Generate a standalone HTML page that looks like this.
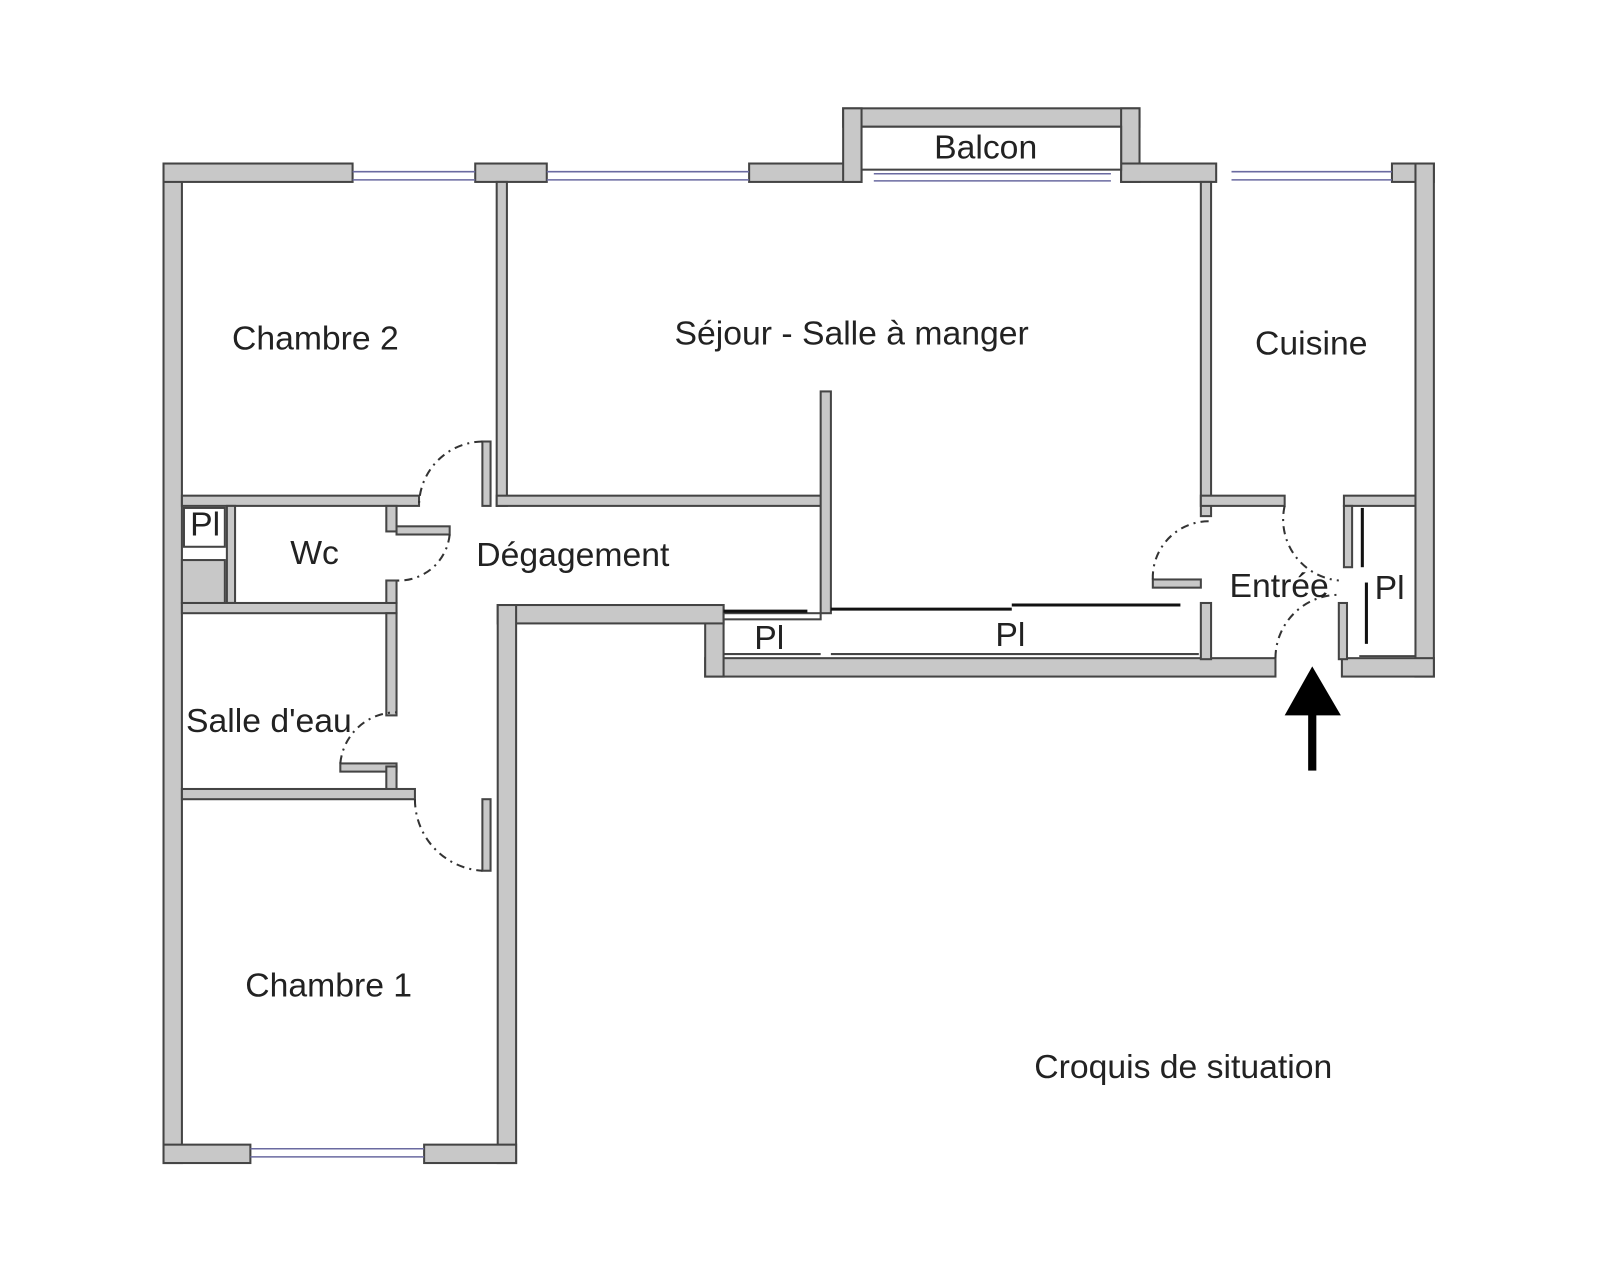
<!DOCTYPE html>
<html><head><meta charset="utf-8"><style>
body{margin:0;background:#fff}
svg text{font-family:"Liberation Sans",sans-serif;fill:#222;font-size:33px}
</style></head><body>
<svg width="1600" height="1277" viewBox="0 0 1600 1277" xmlns="http://www.w3.org/2000/svg">
<g transform="scale(1.022)">
<g fill="#c8c8c8" stroke="#444" stroke-width="2">
<rect x="160" y="160" width="18" height="978"/>
<rect x="160" y="160" width="185" height="18"/>
<rect x="465" y="160" width="70" height="18"/>
<rect x="733" y="160" width="110" height="18"/>
<rect x="825" y="106" width="290" height="18"/>
<rect x="825" y="106" width="18" height="72"/>
<rect x="1097" y="106" width="18" height="72"/>
<rect x="1097" y="160" width="93" height="18"/>
<rect x="1362" y="160" width="41" height="18"/>
<rect x="1385" y="160" width="18" height="502"/>
<rect x="1313" y="644" width="90" height="18"/>
<rect x="690" y="644" width="558" height="18"/>
<rect x="690" y="592" width="18" height="70"/>
<rect x="487" y="592" width="221" height="18"/>
<rect x="487" y="592" width="18" height="546"/>
<rect x="160" y="1120" width="85" height="18"/>
<rect x="415" y="1120" width="90" height="18"/>
<rect x="486" y="178" width="10" height="317"/>
<rect x="486" y="485" width="319" height="10"/>
<rect x="178" y="485" width="232" height="10"/>
<rect x="472" y="432" width="8" height="63"/>
<rect x="803" y="383" width="10" height="217"/>
<rect x="1175" y="178" width="10" height="327"/>
<rect x="1175" y="485" width="82" height="10"/>
<rect x="1315" y="485" width="70" height="10"/>
<rect x="1315" y="495" width="8" height="60"/>
<rect x="1310" y="590" width="8" height="55"/>
<rect x="1175" y="590" width="10" height="55"/>
<rect x="1128" y="567" width="47" height="8"/>
<rect x="222" y="495" width="8" height="95"/>
<rect x="178" y="590" width="210" height="10"/>
<rect x="378" y="495" width="10" height="25"/>
<rect x="388" y="515" width="52" height="8"/>
<rect x="378" y="568" width="10" height="22"/>
<rect x="378" y="600" width="10" height="100"/>
<rect x="333" y="747" width="55" height="8"/>
<rect x="378" y="750" width="10" height="25"/>
<rect x="178" y="772" width="228" height="10"/>
<rect x="472" y="782" width="8" height="70"/>
<rect x="178" y="548" width="42" height="42"/>
<rect x="708" y="600" width="95" height="6" fill="#fff"/>
</g>
<rect x="180" y="497" width="40" height="38" fill="#fff" stroke="#444" stroke-width="2"/>
<rect x="843" y="124" width="254" height="42" fill="#fff" stroke="#444" stroke-width="2"/>
<g stroke="#6a6aa0" stroke-width="1.5">
<line x1="345" y1="168" x2="465" y2="168"/><line x1="345" y1="176" x2="465" y2="176"/>
<line x1="535" y1="168" x2="733" y2="168"/><line x1="535" y1="176" x2="733" y2="176"/>
<line x1="855" y1="170" x2="1087" y2="170"/><line x1="855" y1="177" x2="1087" y2="177"/>
<line x1="1205" y1="168" x2="1362" y2="168"/><line x1="1205" y1="176" x2="1362" y2="176"/>
<line x1="245" y1="1124" x2="415" y2="1124"/><line x1="245" y1="1132" x2="415" y2="1132"/>
</g>
<g stroke="#111" stroke-width="3">
<line x1="813" y1="596" x2="990" y2="596"/><line x1="990" y1="592" x2="1155" y2="592"/>
<line x1="1333" y1="497" x2="1333" y2="555"/><line x1="1337" y1="570" x2="1337" y2="630"/>
<line x1="708" y1="598" x2="790" y2="598"/>
</g>
<g fill="none" stroke="#444" stroke-width="2">
<line x1="813" y1="640" x2="1173" y2="640"/>
<line x1="708" y1="640" x2="803" y2="640"/>
<line x1="1330" y1="642" x2="1385" y2="642"/>
</g>
<g fill="none" stroke="#333" stroke-width="2" stroke-dasharray="8,5,2,5">
<path d="M472 432 A63 63 0 0 0 410 495"/>
<path d="M440 523 A50 50 0 0 1 388 568"/>
<path d="M333 747 A55 55 0 0 1 388 697"/>
<path d="M406 782 A70 70 0 0 0 472 852"/>
<path d="M1128 567 A55 55 0 0 1 1183 510"/>
<path d="M1257 495 A60 60 0 0 0 1310 568"/>
<path d="M1248 644 A62 62 0 0 1 1310 582"/>
</g>
<polygon points="1284,652 1257,700 1312,700" fill="#000"/>
<rect x="1280" y="698" width="8" height="56" fill="#000"/>
<text x="227" y="342">Chambre 2</text>
<text x="660" y="337">Séjour - Salle à manger</text>
<text x="914" y="155">Balcon</text>
<text x="1228" y="347">Cuisine</text>
<text x="186" y="524" font-size="28">Pl</text>
<text x="284" y="552">Wc</text>
<text x="466" y="554">Dégagement</text>
<text x="1203" y="584">Entrée</text>
<text x="1345" y="586">Pl</text>
<text x="738" y="635" font-size="29">Pl</text>
<text x="974" y="632" font-size="29">Pl</text>
<text x="182" y="716">Salle d'eau</text>
<text x="240" y="975">Chambre 1</text>
<text x="1012" y="1055">Croquis de situation</text>
</g>
</svg>
</body></html>
